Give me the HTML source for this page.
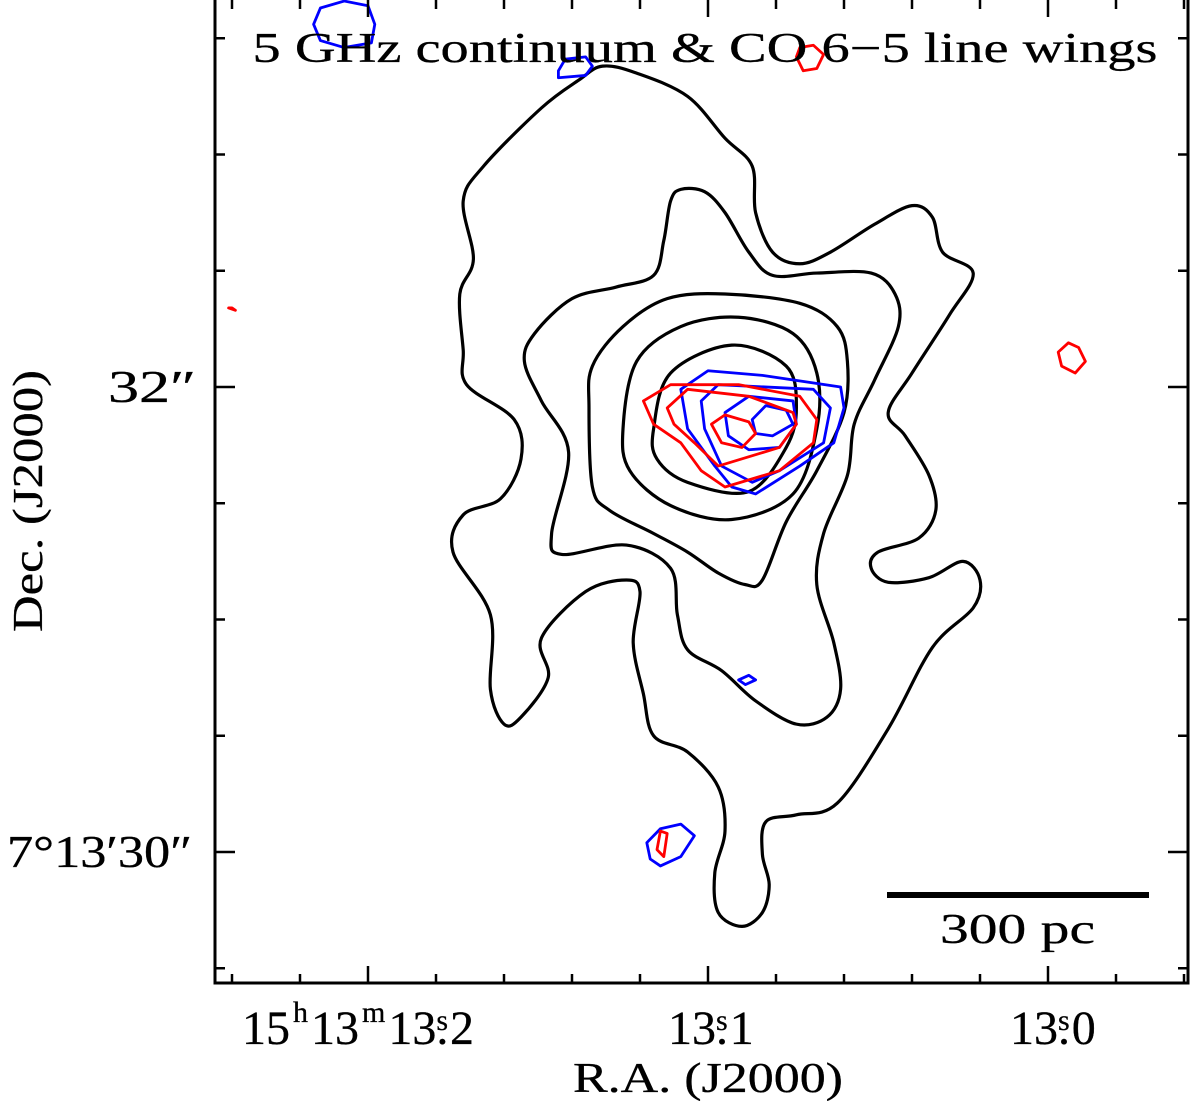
<!DOCTYPE html>
<html><head><meta charset="utf-8"><style>
html,body{margin:0;padding:0;background:#fff;}
svg{display:block;}
text{font-family:"Liberation Serif",serif;fill:#000;}
</style></head><body>
<svg id="chart" width="1200" height="1101" viewBox="0 0 1200 1101" xmlns="http://www.w3.org/2000/svg">
<g id="contours"></g>
<g id="axes"></g>
<rect x="215" y="-2" width="973" height="985" fill="none" stroke="#000" stroke-width="3"/>
<text x="705" y="62" font-size="42" stroke="#000" stroke-width="0.3" text-anchor="middle" textLength="905" lengthAdjust="spacingAndGlyphs">5 GHz continuum &amp; CO 6−5 line wings</text>
<line x1="887" y1="895" x2="1149" y2="895" stroke="#000" stroke-width="6"/>
<text x="940" y="943" font-size="42" stroke="#000" stroke-width="0.3" textLength="155" lengthAdjust="spacingAndGlyphs">300 pc</text>
<text x="108" y="402" font-size="46" stroke="#000" stroke-width="0.3" textLength="88" lengthAdjust="spacingAndGlyphs">32″</text>
<text x="7" y="867" font-size="46" stroke="#000" stroke-width="0.3" textLength="185" lengthAdjust="spacingAndGlyphs">7°13′30″</text>
<text x="242" y="1044" font-size="48" stroke="#000" stroke-width="0.3">15<tspan dx="3" dy="-22" font-size="30">h</tspan><tspan dx="3" dy="22">13</tspan><tspan dx="3" dy="-22" font-size="30">m</tspan><tspan dx="3" dy="22">13.</tspan><tspan dx="-12" dy="-14" font-size="30">s</tspan><tspan dx="2" dy="14">2</tspan></text>
<text x="668" y="1044" font-size="48" stroke="#000" stroke-width="0.3">13.<tspan dx="-12" dy="-14" font-size="30">s</tspan><tspan dx="2" dy="14">1</tspan></text>
<text x="1010" y="1044" font-size="48" stroke="#000" stroke-width="0.3">13.<tspan dx="-12" dy="-14" font-size="30">s</tspan><tspan dx="2" dy="14">0</tspan></text>
<text x="573" y="1092" font-size="42" stroke="#000" stroke-width="0.3" textLength="270" lengthAdjust="spacingAndGlyphs">R.A. (J2000)</text>
<text transform="translate(42,632) rotate(-90)" font-size="42" stroke="#000" stroke-width="0.3" textLength="262" lengthAdjust="spacingAndGlyphs">Dec. (J2000)</text>
</svg>
<script>
// units: RA offset in ms of time from 13.1s (positive = east/left); Dec offset in 0.01" from 32"
const contOuter=[[31,138],[21,135],[6,125],[-5,107],[-13,95],[-14,75],[-19,58],[-27,53],[-36,58],[-49,70],[-60,78],[-66,73],[-69,58],[-78,49],[-71,31],[-60,6],[-53,-11],[-58,-21],[-65,-38],[-67,-53],[-62,-65],[-50,-71],[-48,-78],[-53,-84],[-65,-82],[-75,-75],[-80,-83],[-78,-95],[-66,-112],[-53,-147],[-38,-179],[-26,-184],[-17,-187],[-16,-201],[-18,-214],[-16,-226],[-10,-232],[-3,-226],[-2,-209],[-5,-191],[-3,-172],[6,-157],[16,-150],[19,-132],[22,-110],[20,-88],[24,-83],[36,-88],[49,-108],[47,-125],[55,-142],[60,-145],[64,-130],[64,-98],[75,-71],[72,-55],[61,-48],[55,-31],[57,-14],[71,1],[72,16],[73,40],[69,55],[72,80],[66,95],[49,120],[38,132]];
const cont2=[[8,85],[1,84],[-5,75],[-12,58],[-19,48],[-32,49],[-48,49],[-55,40],[-56,26],[-49,3],[-43,-16],[-41,-38],[-34,-63],[-32,-85],[-37,-110],[-39,-130],[-35,-142],[-26,-145],[-14,-135],[-4,-122],[6,-113],[9,-98],[11,-78],[24,-68],[43,-72],[46,-63],[41,-28],[49,-6],[54,11],[51,23],[40,38],[27,43],[16,48],[13,63],[11,80]];
const cont3=[[25,26],[12,38],[-5,40],[-27,36],[-38,26],[-41,11],[-40,-11],[-32,-36],[-23,-58],[-16,-83],[-11,-85],[-3,-80],[6,-71],[16,-63],[29,-53],[34,-43],[35,-9],[34,9]];
const cont4=[[25,-18],[21,11],[8,26],[-9,30],[-25,23],[-32,6],[-32,-18],[-25,-46],[-7,-57],[11,-51],[23,-36]];
const cont5=[[16,-18],[11,6],[-7,18],[-23,9],[-26,-9],[-23,-26],[-12,-45],[6,-41],[15,-31]];
const blue1=[[8,-1],[0,7],[-16,5],[-39,0],[-40,-9],[-37,-24],[-27,-34],[-14,-46],[-7,-43],[-2,-34],[6,-18]];
const blue2=[[2,-6],[-3,1],[-31,-1],[-36,-9],[-34,-24],[-21,-36],[-13,-41],[-4,-34],[1,-18]];
const blue3=[[-5,-11],[-12,-4],[-25,-6],[-26,-16],[-21,-26],[-12,-27],[-6,-21]];
const blue4=[[-13,-14],[-17,-8],[-23,-10],[-25,-16],[-19,-21],[-14,-20]];
const blueNW=[[116,156],[114,163],[107,166],[100,164],[98,156],[99,148],[107,146],[114,149]];
const blueN=[[44,136],[42,141],[36,142],[34,138],[36,134],[44,133]];
const blueS=[[-9,-126],[-12,-124],[-14,-126],[-11,-128]];
const blueSW=[[18,-196],[14,-190],[8,-188],[4,-193],[8,-202],[14,-206],[17,-203]];
const red1=[[19,-6],[11,1],[-9,1],[-27,-4],[-32,-14],[-31,-24],[-21,-36],[-5,-43],[2,-36],[8,-24],[16,-16]];
const red2=[[12,-9],[6,-1],[-12,-4],[-25,-11],[-26,-16],[-21,-26],[-3,-34],[4,-24],[10,-16]];
const red3=[[-1,-16],[-5,-12],[-12,-15],[-14,-20],[-10,-26],[-4,-24]];
const redN=[[-26,142],[-27,146],[-31,147],[-34,143],[-32,137],[-28,136]];
const redE=[[-103,15],[-106,19],[-109,17],[-111,11],[-108,6],[-104,9]];
const redW=[[140,34],[139,33],[141,34]];
const redSW=[[15,-199],[14,-191],[12,-192],[13,-202]];
const raTicks=[-140,-120,-100,-80,-60,-40,-20,0,20,40,60,80,100,120,140];
const raMajor=[-100,0,100];
const decTicks=[150,100,50,0,-50,-100,-150,-200,-250];
const decMajor=[0,-200];

const xs=u=>708-3.4*u;
const ys=v=>387-2.325*v;
const NS="http://www.w3.org/2000/svg";
const cg=document.getElementById('contours');
function smooth(pts){
  const p=pts.map(d=>[xs(d[0]),ys(d[1])]);const n=p.length;let s=`M${p[0][0]},${p[0][1]}`;
  for(let i=0;i<n;i++){const p0=p[(i-1+n)%n],p1=p[i],p2=p[(i+1)%n],p3=p[(i+2)%n];
    s+=` C${p1[0]+(p2[0]-p0[0])/6},${p1[1]+(p2[1]-p0[1])/6} ${p2[0]-(p3[0]-p1[0])/6},${p2[1]-(p3[1]-p1[1])/6} ${p2[0]},${p2[1]}`;}
  return s+'Z';
}
function poly(pts){return 'M'+pts.map(d=>xs(d[0])+','+ys(d[1])).join(' L')+'Z';}
function add(d,color,w,name){
  const e=document.createElementNS(NS,'path');
  e.setAttribute('d',d);e.setAttribute('fill','none');e.setAttribute('stroke',color);
  e.setAttribute('stroke-width',w);e.setAttribute('stroke-linejoin','round');
  
  
  cg.appendChild(e);
}
[[contOuter,'continuum-contour-1'],[cont2,'continuum-contour-2'],[cont3,'continuum-contour-3'],[cont4,'continuum-contour-4'],[cont5,'continuum-contour-5']].forEach(c=>add(smooth(c[0]),'#000',3.2,c[1]));
[[blue1,'blue-wing-contour-1'],[blue2,'blue-wing-contour-2'],[blue3,'blue-wing-contour-3'],[blue4,'blue-wing-contour-4'],[blueNW,'blue-wing-contour-nw'],[blueN,'blue-wing-contour-n'],[blueS,'blue-wing-contour-s'],[blueSW,'blue-wing-contour-sw']].forEach(c=>add(poly(c[0]),'#0000ff',2.8,c[1]));
[[red1,'red-wing-contour-1'],[red2,'red-wing-contour-2'],[red3,'red-wing-contour-3'],[redN,'red-wing-contour-n'],[redE,'red-wing-contour-e'],[redW,'red-wing-contour-w'],[redSW,'red-wing-contour-sw']].forEach(c=>add(poly(c[0]),'#ff0000',2.8,c[1]));
const ag=document.getElementById('axes');
function tick(x1,y1,x2,y2,name){
  const l=document.createElementNS(NS,'line');
  l.setAttribute('x1',x1);l.setAttribute('y1',y1);l.setAttribute('x2',x2);l.setAttribute('y2',y2);
  l.setAttribute('stroke','#000');l.setAttribute('stroke-width',2.5);
  
  
  ag.appendChild(l);
}
raTicks.forEach(u=>{const L=raMajor.includes(u)?17:9;const x=xs(u);tick(x,983,x,983-L,'x-tick');tick(x,0,x,L,'x-tick-top');});
decTicks.forEach(v=>{const L=decMajor.includes(v)?20:10;const y=ys(v);tick(215,y,215+L,y,'y-tick');tick(1188,y,1188-L,y,'y-tick-right');});
</script>
</body></html>
